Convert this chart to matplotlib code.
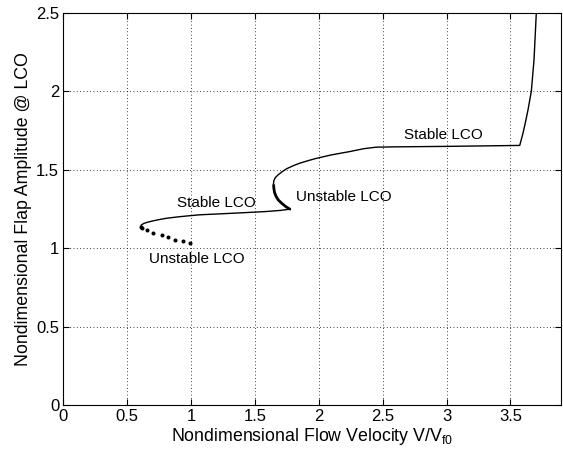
import matplotlib
matplotlib.use("Agg")
import matplotlib.pyplot as plt

plt.rcParams['font.family'] = ['Liberation Sans', 'DejaVu Sans']

# Lower stable LCO branch
stable_low_x = [0.605, 0.610, 0.630, 0.660, 0.700, 0.760, 0.808, 0.900, 1.000, 1.069,
                1.200, 1.329, 1.450, 1.591, 1.700, 1.773]
stable_low_y = [1.137, 1.147, 1.157, 1.165, 1.173, 1.183, 1.190, 1.199, 1.207, 1.212,
                1.217, 1.222, 1.227, 1.233, 1.240, 1.248]

# Unstable (dotted) branch near the turning point
unstable_low_x = [0.605, 0.616, 0.651, 0.704, 0.769, 0.821, 0.873, 0.938, 0.991]
unstable_low_y = [1.137, 1.130, 1.116, 1.099, 1.084, 1.070, 1.052, 1.046, 1.035]

# Unstable (thick) middle branch
unstable_mid_x = [1.773, 1.740, 1.710, 1.682, 1.665, 1.653, 1.648, 1.646]
unstable_mid_y = [1.248, 1.265, 1.285, 1.307, 1.330, 1.355, 1.380, 1.400]

# Upper stable LCO branch
stable_up_x = [1.646, 1.645, 1.648, 1.660, 1.682, 1.710, 1.747, 1.800, 1.851, 1.920,
               1.982, 2.100, 2.243, 2.350, 2.450, 2.600, 3.000, 3.573,
               3.585, 3.599, 3.620, 3.638, 3.664, 3.685, 3.703]
stable_up_y = [1.400, 1.410, 1.430, 1.450, 1.467, 1.485, 1.505, 1.525, 1.541, 1.558,
               1.572, 1.594, 1.615, 1.633, 1.643, 1.645, 1.648, 1.654,
               1.690, 1.733, 1.810, 1.881, 2.000, 2.200, 2.500]

xticks = [0, 0.5, 1, 1.5, 2, 2.5, 3, 3.5]
yticks = [0, 0.5, 1, 1.5, 2, 2.5]

fig = plt.figure(figsize=(5.63, 4.53), dpi=100)
ax = fig.add_axes([0.1126, 0.106, 0.8847, 0.866])

ax.plot(stable_low_x, stable_low_y, color='black', lw=1.0)
ax.plot(unstable_low_x, unstable_low_y, color='black', ls='none', marker='o', ms=1.9)
ax.plot(unstable_mid_x, unstable_mid_y, color='black', lw=2.0, solid_capstyle='round')
ax.plot(stable_up_x, stable_up_y, color='black', lw=1.0)

ax.text(1.198, 1.286, 'Stable LCO', ha='center', va='center', fontsize=11)
ax.text(1.047, 0.931, 'Unstable LCO', ha='center', va='center', fontsize=11)
ax.text(1.825, 1.328, 'Unstable LCO', ha='left', va='center', fontsize=11)
ax.text(2.973, 1.722, 'Stable LCO', ha='center', va='center', fontsize=11)

ax.set_xlim(0, 3.9)
ax.set_ylim(0, 2.5)
ax.set_xticks(xticks)
ax.set_xticklabels([f'{t:g}' for t in xticks])
ax.set_yticks(yticks)
ax.set_yticklabels([f'{t:g}' for t in yticks])
ax.tick_params(direction='in', top=True, right=True, labelsize=12, length=4, pad=3)
ax.grid(True, color='black', ls=(0, (1, 3)), lw=0.6)
for s in ax.spines.values():
    s.set_linewidth(0.8)

ax.set_xlabel('Nondimensional Flow Velocity V/V$_{\\mathregular{f0}}$', fontsize=12.8, labelpad=1)
ax.set_ylabel('Nondimensional Flap Amplitude @ LCO', fontsize=12.8, labelpad=3)

fig.savefig('out.png', dpi=100)
